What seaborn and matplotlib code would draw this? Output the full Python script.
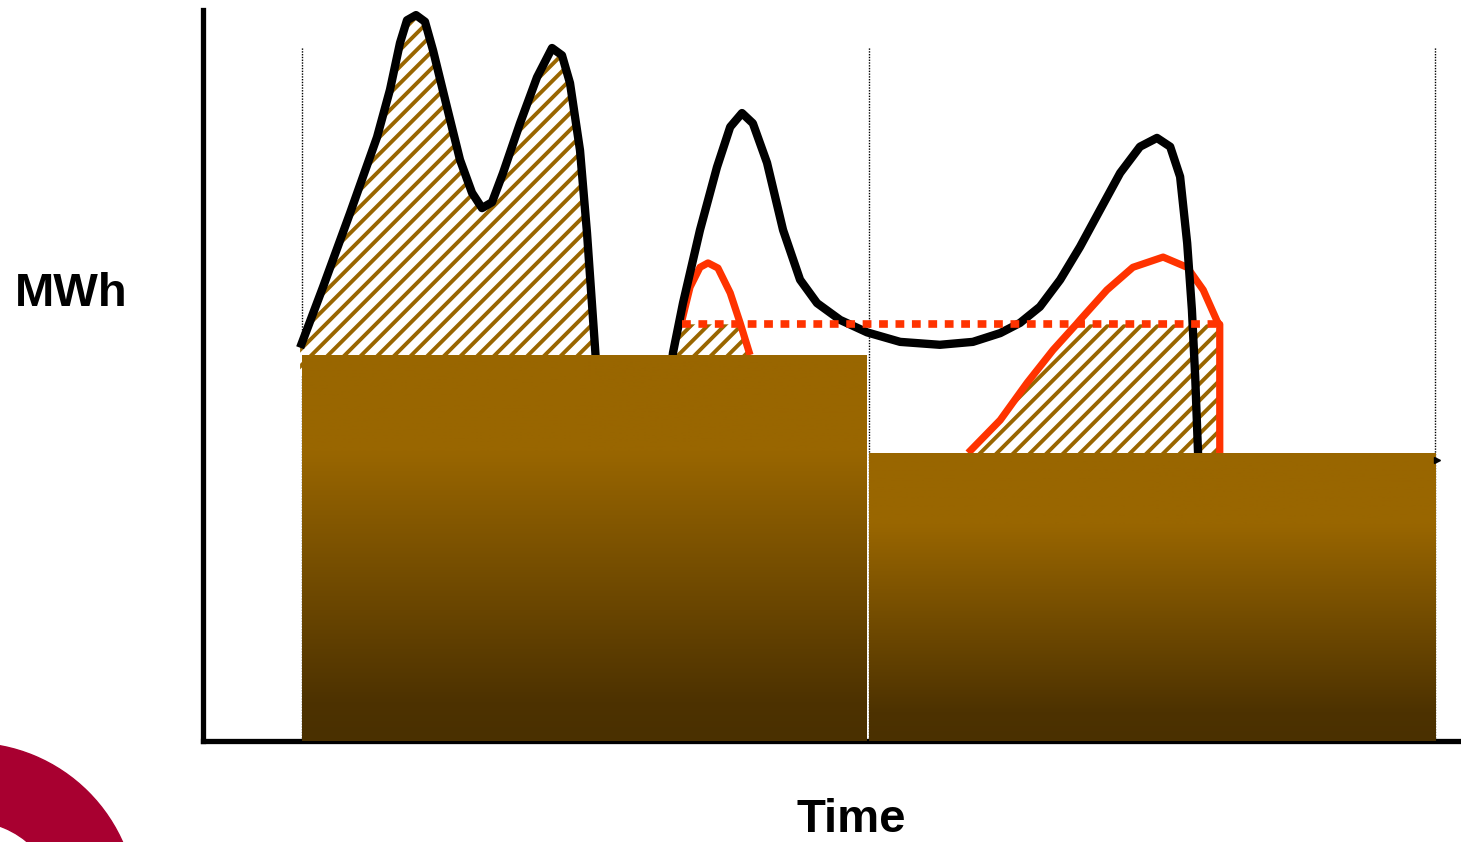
import numpy as np
import matplotlib
matplotlib.use("Agg")
import matplotlib.pyplot as plt
from matplotlib.colors import LinearSegmentedColormap
from matplotlib.patches import Wedge
import seaborn as sns

# Time in hours, energy in MWh (schematic)
block_start = [0, 12]
block_width = [11.95, 12]
block_level = [52.8, 39.4]

# demand curve (black)
demand_t = [-0.04, 0.445, 1.017, 1.589, 1.864, 2.076, 2.224, 2.415, 2.605, 2.775, 3.071,
            3.347, 3.601, 3.813, 4.025, 4.258, 4.618, 4.978, 5.296, 5.507, 5.677, 5.889,
            6.037, 6.206, 6.31, 7.05, 7.69, 7.858, 8.07, 8.43, 8.79, 9.07, 9.32, 9.55,
            9.85, 10.19, 10.55, 10.91, 11.40, 11.97, 12.67, 13.51, 14.21, 14.79, 15.21,
            15.63, 16.06, 16.48, 16.90, 17.33, 17.75, 18.11, 18.39, 18.60, 18.75, 18.85,
            18.92, 18.98, 19.02]
demand_mwh = [53.8, 62.1, 72.2, 82.6, 89.1, 95.5, 98.6, 99.3, 98.4, 94.5, 86.7,
              79.5, 75.0, 72.9, 73.7, 77.7, 84.5, 90.8, 94.8, 93.8, 90.0, 80.8,
              69.5, 53.9, 43.9, 37.1, 43.9, 53.1, 59.9, 69.9, 78.5, 84.0, 85.9, 84.5,
              79.1, 69.9, 63.1, 59.9, 57.6, 55.9, 54.6, 54.2, 54.6, 55.8, 57.2,
              59.4, 63.1, 67.6, 72.6, 77.7, 81.3, 82.5, 81.3, 77.2, 68.1, 59.0,
              49.8, 39.4, 33.0]

# flexible consumption curves (red)
flex1_t = [8.05, 8.22, 8.43, 8.60, 8.81, 9.07, 9.28, 9.49]
flex1_mwh = [57.6, 62.1, 64.8, 65.4, 64.7, 61.3, 57.2, 52.8]
flex2_t = [14.11, 14.79, 15.36, 15.91, 16.40, 16.48, 17.05, 17.60, 18.24, 18.75, 19.09,
           19.40, 19.44, 19.44]
flex2_mwh = [39.4, 43.9, 49.0, 53.5, 57.0, 57.6, 61.7, 64.8, 66.2, 64.8, 61.7,
             57.2, 57.0, 39.4]

# contracted limit (dotted red)
limit_t = [8.05, 19.44]
limit_mwh = [57.0, 57.0]

brown = "#996600"
red = "#ff3300"

sns.set_style("white")
plt.rcParams["hatch.linewidth"] = 2.8
plt.rcParams["font.family"] = ["Liberation Sans", "DejaVu Sans"]

fig = plt.figure(figsize=(14.61, 8.42), dpi=100)
ax = fig.add_axes([203 / 1461, 101 / 842, 1 - 203 / 1461, 731 / 842])

hatch_kw = dict(facecolor="white", edgecolor=brown, hatch="//", lw=0, zorder=1)

# hatched excess areas (bottoms tucked under the blocks)
d_t = np.array(demand_t)
d_m = np.array(demand_mwh)
m1 = d_t <= 6.21
ax.fill(np.r_[d_t[m1], 6.3, -0.04], np.r_[d_m[m1], 50, 50], **hatch_kw)
ax.fill([7.7, 7.858, 8.0, 9.29, 9.49, 9.6],
        [50, 53.1, limit_mwh[0], limit_mwh[0], block_level[0], 50], **hatch_kw)
f_t = np.array(flex2_t)
f_m = np.array(flex2_mwh)
m2 = (f_m <= 57.0) & (f_t < 16.45)
ax.fill(np.r_[13.9, f_t[m2], limit_t[1], limit_t[1]],
        np.r_[37, f_m[m2], limit_mwh[1], 37], **hatch_kw)

# period separators
ax.vlines([0, 12, 24], 0, 95, colors="black", linestyles=(0, (1, 1)), lw=1, zorder=0.5)

# curves
sns.lineplot(x=flex1_t, y=flex1_mwh, sort=False, estimator=None, color=red, lw=5.2,
             ax=ax, zorder=2)
sns.lineplot(x=flex2_t, y=flex2_mwh, sort=False, estimator=None, color=red, lw=5.2,
             ax=ax, zorder=2)
sns.lineplot(x=demand_t, y=demand_mwh, sort=False, estimator=None, color="black", lw=6,
             ax=ax, zorder=3)
for ln in ax.get_lines():
    ln.set_solid_joinstyle("round")
    ln.set_solid_capstyle("butt")

# gradient blocks
cmap = LinearSegmentedColormap.from_list(
    "block", [(0, "#4a3000"), (0.1, "#4d3200"), (0.75, brown), (1, brown)])
grad = np.linspace(0, 1, 256).reshape(-1, 1)
bars = ax.bar(block_start, block_level, width=block_width, align="edge",
              color="none", edgecolor="none", zorder=4)
for b in bars:
    x0, w, h = b.get_x(), b.get_width(), b.get_height()
    im = ax.imshow(grad, extent=[x0, x0 + w, 0, h], origin="lower", cmap=cmap,
                   aspect="auto", zorder=4)
    im.set_clip_path(b)

# limit line
ax.plot(limit_t, limit_mwh, color=red, lw=5.5, dashes=(1.15, 1.0),
        dash_capstyle="butt", zorder=5)
ax.plot([24.05], [38.5], marker=">", ms=5, color="black", zorder=5)

ax.set_xlim(-2.097, 24.55)
ax.set_ylim(0, 100)
ax.set_xticks([])
ax.set_yticks([])
for s in ["top", "right"]:
    ax.spines[s].set_visible(False)
for s in ["left", "bottom"]:
    ax.spines[s].set_linewidth(3.8)
    ax.spines[s].set_color("black")

fig.text(71 / 1461, 1 - 306 / 842, "MWh", ha="center", va="baseline",
         fontsize=34, fontweight="bold", color="black")
fig.text(851 / 1461, 1 - 832 / 842, "Time", ha="center", va="baseline",
         fontsize=34, fontweight="bold", color="black")

# logo fragment bottom-left
fig.patches.append(Wedge((-0.30, -0.68), 1.67, 0, 360, width=0.78,
                         transform=fig.dpi_scale_trans, color="#a80030"))

fig.savefig("out.png", dpi=100)
